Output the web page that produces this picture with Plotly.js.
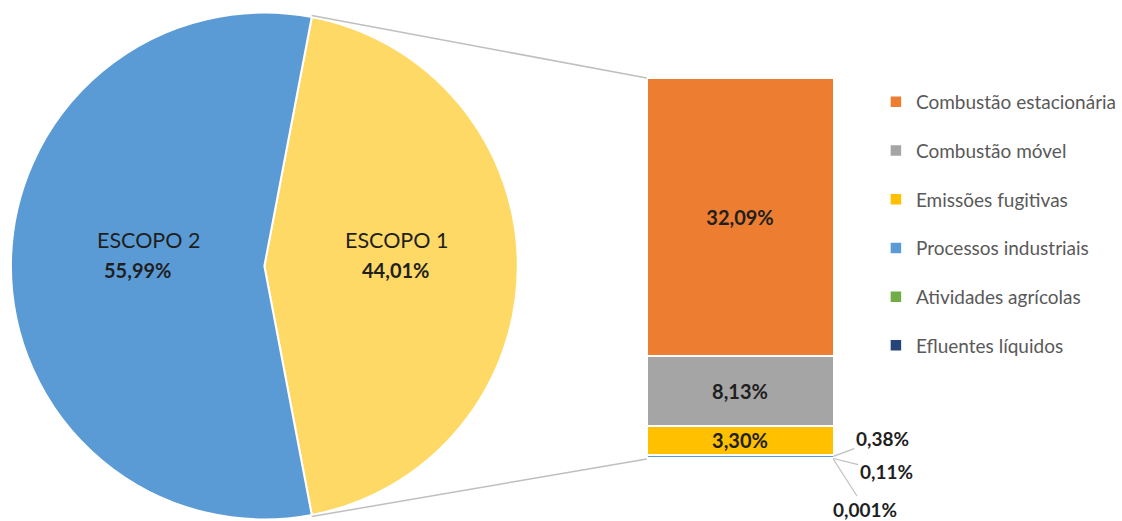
<!DOCTYPE html>
<html>
<head>
<meta charset="utf-8">
<script src="https://cdn.plot.ly/plotly-3.0.1.min.js"></script>
<style>html,body{margin:0;padding:0;background:#fff}#chart{width:1122px;height:521px}</style>
</head>
<body>
<div id="chart"></div>
<script>
// ---- data ----
var scopeLabels = ["ESCOPO 1", "ESCOPO 2"];
var scopeValues = [44.01, 55.99];
var scopeColors = ["#FFD966", "#5B9BD5"];

var subCategories = ["Combustão estacionária", "Combustão móvel", "Emissões fugitivas",
                     "Processos industriais", "Atividades agrícolas", "Efluentes líquidos"];
var subValues = [32.09, 8.13, 3.30, 0.38, 0.11, 0.001];
var subColors = ["#ED7D31", "#A5A5A5", "#FFC000", "#5B9BD5", "#70AD47", "#264478"];

function fmt(v) {
  var d = v < 0.01 ? 3 : 2;
  return v.toFixed(d).replace(".", ",") + "%";
}

var W = 1122, H = 521;
var FONT = "Lato, 'Open Sans', sans-serif";
var TXT = "#1f1f1f";

// geometry (pixels)
var pieDom = {x: [11 / W, 522 / W], y: [0, 510 / H]};
var barDom = {x: [652 / W, 840 / W], y: [(H - 459) / H, (H - 78) / H]};
var rotation = 180 - scopeValues[0] / 100 * 360 / 2 - 90; // centre first slice at 3 o'clock

var traces = [];
traces.push({
  type: "pie",
  labels: scopeLabels,
  values: scopeValues,
  marker: {colors: scopeColors, line: {color: "#ffffff", width: 2}},
  sort: false,
  direction: "clockwise",
  rotation: rotation,
  textinfo: "none",
  hoverinfo: "label+percent",
  showlegend: false,
  domain: pieDom
});

var subTotal = subValues.reduce(function (a, b) { return a + b; }, 0);
subCategories.forEach(function (c, i) {
  var big = subValues[i] > 1;
  traces.push({
    type: "bar",
    name: c,
    x: [0],
    y: [subValues[i]],
    width: [1],
    xaxis: "x2",
    yaxis: "y2",
    legendgroup: "g" + i,
    marker: {color: subColors[i], line: {color: "#ffffff", width: 1.5}},
    text: big ? ["<b>" + fmt(subValues[i]) + "</b>"] : [""],
    textposition: big ? "inside" : "none",
    insidetextanchor: "middle",
    constraintext: "none",
    textfont: {family: FONT, size: 20, color: TXT},
    hoverinfo: "name+y"
  });
});

// connector lines from pie slice edges to bar corners
var cx = (pieDom.x[0] + pieDom.x[1]) / 2 * W;
var cy = H - (pieDom.y[0] + pieDom.y[1]) / 2 * H;
var r = Math.min((pieDom.x[1] - pieDom.x[0]) * W, (pieDom.y[1] - pieDom.y[0]) * H) / 2;
var a0 = rotation * Math.PI / 180;
var a1 = (rotation + scopeValues[0] / 100 * 360) * Math.PI / 180;
function pt(a) { return [(cx + r * Math.sin(a)) / W, (H - (cy - r * Math.cos(a))) / H]; }
var p0 = pt(a0), p1 = pt(a1);
var shapes = [
  {type: "line", xref: "paper", yref: "paper", x0: p0[0], y0: p0[1], x1: barDom.x[0], y1: barDom.y[1],
   line: {color: "#BFBFBF", width: 1.5}},
  {type: "line", xref: "paper", yref: "paper", x0: p1[0], y0: p1[1], x1: barDom.x[0], y1: barDom.y[0],
   line: {color: "#BFBFBF", width: 1.5}}
];

function ann(x, y, text, size) {
  return {xref: "paper", yref: "paper", x: x / W, y: 1 - y / H, xanchor: "center", yanchor: "middle",
          text: text, showarrow: false, font: {family: FONT, size: size, color: TXT}};
}
var annotations = [
  ann(150, 240, scopeLabels[1], 21.5),
  ann(139, 270, "<b>" + fmt(scopeValues[1]) + "</b>", 20),
  ann(400, 240, scopeLabels[0], 21.5),
  ann(399, 270, "<b>" + fmt(scopeValues[0]) + "</b>", 20)
];

// small-value labels with leader lines
var offsets = [[49, -18], [53, 13], [32, 50]];
var cum = 0;
subValues.forEach(function (v, i) {
  cum += v;
  if (v <= 1) {
    var o = offsets[i - 3];
    annotations.push({
      xref: "x2", yref: "y2", x: 0.5, y: cum - v / 2,
      ax: o[0], ay: o[1], axref: "pixel", ayref: "pixel",
      text: "<b>" + fmt(v) + "</b>", showarrow: true, arrowhead: 0, arrowwidth: 1.2,
      arrowcolor: "#BFBFBF", standoff: 0,
      font: {family: FONT, size: 19, color: TXT}
    });
  }
});

var layout = {
  width: W, height: H,
  margin: {l: 0, r: 0, t: 0, b: 0},
  paper_bgcolor: "#ffffff", plot_bgcolor: "#ffffff",
  separators: ",.",
  barmode: "stack",
  font: {family: FONT},
  xaxis2: {domain: barDom.x, range: [-0.5, 0.5], visible: false, fixedrange: true},
  yaxis2: {domain: barDom.y, range: [subTotal, 0], visible: false, fixedrange: true, anchor: "x2"},
  showlegend: true,
  legend: {x: 883 / W, y: 1 - 83 / H, xanchor: "left", yanchor: "top",
           traceorder: "grouped", tracegroupgap: 21,
           font: {family: FONT, size: 19, color: "#595959"}, bgcolor: "rgba(0,0,0,0)"},
  shapes: shapes,
  annotations: annotations
};

Plotly.newPlot("chart", traces, layout, {displayModeBar: false, staticPlot: true});
</script>
</body>
</html>
